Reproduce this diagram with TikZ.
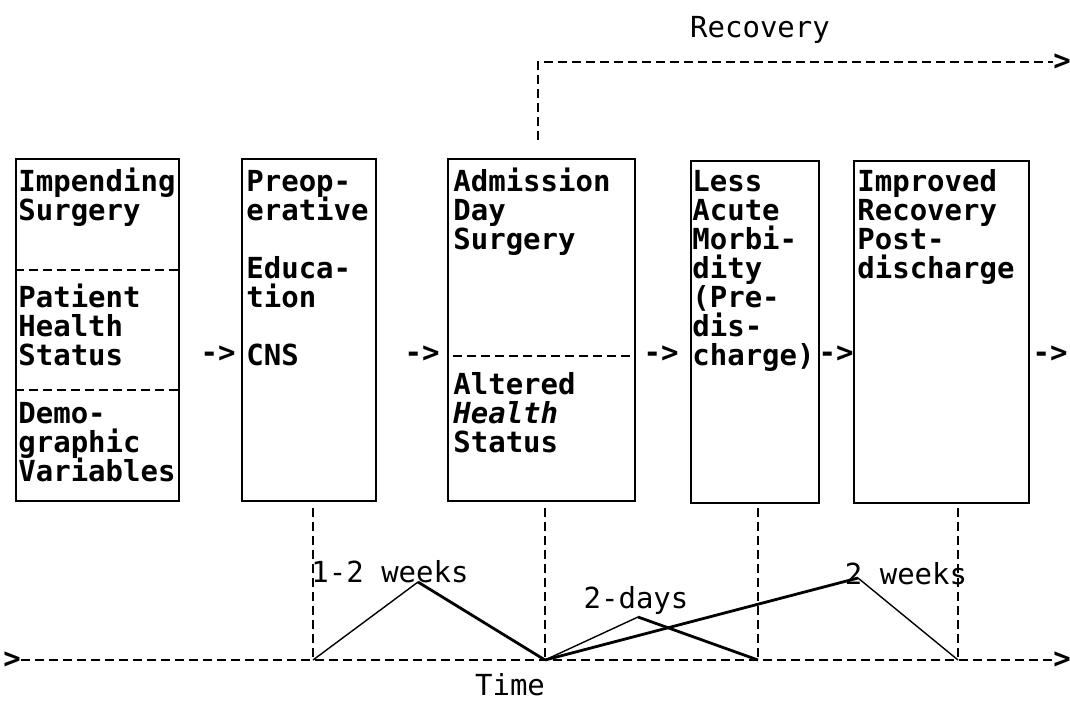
\documentclass[tikz,border=0pt]{standalone}
\usepackage{fontspec}
\setmainfont{DejaVu Sans Mono}
\usetikzlibrary{positioning}
\tikzset{
    x=0.5pt,y=-0.5pt,semithick,
    stage/.style={draw,line width=1.2pt,anchor=north west,inner sep=0,minimum height=171pt},
    tt/.style={anchor=base west,inner sep=0,font=\fontsize{14.5}{14.5}\selectfont\bfseries},
    lab/.style={inner sep=0,font=\fontsize{14.5}{14.5}\selectfont},
    go/.style={inner sep=0,font=\fontsize{14.5}{14.5}\selectfont\bfseries},
    dline/.style={dash pattern=on 4.5pt off 2.5pt,line width=0.9pt},
    rise/.style={line width=0.7pt},
    fall/.style={line width=1.4pt}
}

\begin{document}
\begin{tikzpicture}
    \useasboundingbox (0,0) rectangle (1070,703);

    % stages
    \node[stage,minimum width=81.5pt] (imp) at (15,158) {};
    \node[stage,minimum width=67pt] (pre) at (241,158) {};
    \node[stage,minimum width=93.5pt] (adm) at (447,158) {};
    \node[stage,minimum width=64pt] (less) at (690,160) {};
    \node[stage,minimum width=87.5pt] (post) at (853,160) {};

    % box texts, row k has baseline 191+29k
    \foreach \t/\k [count=\i] in {Impending/0,Surgery/1,Patient/4,Health/5,Status/6,Demo-/8,graphic/9,Variables/10}
        \node[tt] (a\i) at (18,191+29*\k) {\t};
    \foreach \t/\k [count=\i] in {Preop-/0,erative/1,Educa-/3,tion/4,CNS/6}
        \node[tt] (b\i) at (246,191+29*\k) {\t};
    \foreach \t/\k [count=\i] in {Admission/0,Day/1,Surgery/2,Altered/7,{\itshape Health}/8,Status/9}
        \node[tt] (c\i) at (453,191+29*\k) {\t};
    \foreach \t/\k [count=\i] in {Less/0,Acute/1,Morbi-/2,dity/3,{(Pre-}/4,dis-/5,{charge)}/6}
        \node[tt] (d\i) at (692,191+29*\k) {\t};
    \foreach \t/\k [count=\i] in {Improved/0,Recovery/1,Post-/2,discharge/3}
        \node[tt] (e\i) at (857,191+29*\k) {\t};

    % dividers
    \draw[dline] (imp.west |- 0,270) -- (imp.east |- 0,270);
    \draw[dline] (imp.west |- 0,390) -- (imp.east |- 0,390);
    \draw[dline] (453,356) -- (adm.east |- 0,356);

    % flow
    \node[go] (ar1) at (218,354) {->};
    \node[go] (ar2) at (422,354) {->};
    \node[go] (ar3) at (661,354) {->};
    \node[go] (ar4) at (836,354) {->};
    \node[go] (ar5) at (1050,354) {->};

    % recovery
    \node[lab] (rec) at (760,30) {Recovery};
    \node[go] (rend) at (1062,62) {>};
    \coordinate (rc) at (538,62);
    \draw[dline] (rc |- 0,140) -- (rc) -- (rend.west);

    % time axis
    \node[go] (tl) at (12,660) {>};
    \node[go] (tr) at (1062,660) {>};
    \draw[dline] (tl.east) -- (tr.west);
    \node[lab] (time) at (510,685) {Time};

    \coordinate (t1) at (313,660);
    \coordinate (t2) at (545,660);
    \coordinate (t3) at (758,660);
    \coordinate (t4) at (958,660);
    \draw[dline] (t1 |- 0,508) -- (t1);
    \draw[dline] (t2 |- 0,508) -- (t2);
    \draw[dline] (t3 |- 0,508) -- (t3);
    \draw[dline] (t4 |- 0,508) -- (t4);

    % durations
    \coordinate (pk1) at (418,582);
    \coordinate (pk2) at (638,617);
    \coordinate (pk3) at (858,578);
    \node[lab] (w1) at (390,572) {1-2 weeks};
    \node[lab] (w2) at (636,600) {2-days};
    \node[lab] (w3) at (906,574) {2 weeks};
    \draw[rise] (t1) -- (pk1);
    \draw[fall] (pk1) -- (t2);
    \draw[rise] (t2) -- (pk2);
    \draw[fall] (pk2) -- (t3);
    \draw[fall] (t2) -- (pk3);
    \draw[rise] (pk3) -- (t4);
\end{tikzpicture}
\end{document}
